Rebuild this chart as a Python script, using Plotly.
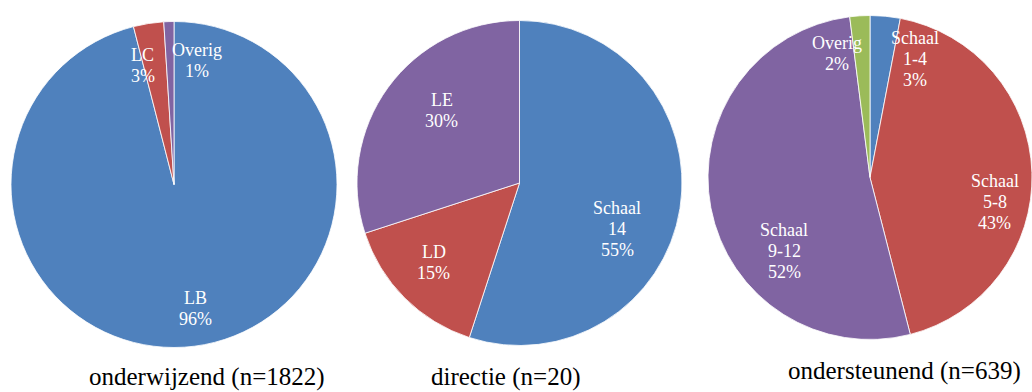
import math
import plotly.graph_objects as go

# ---------------- data ----------------
titles = ["onderwijzend (n=1822)", "directie (n=20)", "ondersteunend (n=639)"]

cats_onderwijzend = ["LB", "LC", "Overig"]
vals_onderwijzend = [96, 3, 1]

cats_directie = ["Schaal 14", "LD", "LE"]
vals_directie = [55, 15, 30]

cats_ondersteunend = ["Schaal 1-4", "Schaal 5-8", "Schaal 9-12", "Overig"]
vals_ondersteunend = [3, 43, 52, 2]

# ---------------- style / layout ----------------
W, H = 1032, 392
BLUE, RED, PURPLE, GREEN = "#4F81BD", "#C0504D", "#8064A2", "#9BBB59"
colors = [
    [BLUE, RED, PURPLE],
    [BLUE, RED, PURPLE],
    [BLUE, RED, PURPLE, GREEN],
]
# pie boxes in pixels: (left, top, right, bottom)
boxes = [(11, 21, 337, 348), (357, 20, 682, 346), (708, 15, 1032, 340)]
# label placement: fraction of radius along mid-angle, plus pixel nudges
LABEL_FRAC = 0.72
LINE_GAP = 21
nudges = [
    [(7, 8), (-13, -3), (27, -7)],
    [(-18, 28), (-3, -3), (17, -4)],
    [(34, -2), (8, 28), (29, 52), (-26, -8)],
]
title_x = [207, 505, 904]
title_lift = [0, 0, 6]

FONT = "Liberation Serif, Times New Roman, serif"

pies = [
    (cats_onderwijzend, vals_onderwijzend),
    (cats_directie, vals_directie),
    (cats_ondersteunend, vals_ondersteunend),
]

fig = go.Figure()
annotations = []

for i, (cats, vals) in enumerate(pies):
    l, t, r, b = boxes[i]
    fig.add_trace(go.Pie(
        labels=cats,
        values=vals,
        sort=False,
        direction="clockwise",
        rotation=0,
        textinfo="none",
        hoverinfo="label+percent",
        marker=dict(colors=colors[i], line=dict(color="white", width=0.8)),
        domain=dict(x=[l / W, r / W], y=[1 - b / H, 1 - t / H]),
        showlegend=False,
    ))
    cx = (l + r) / 2
    cy = (t + b) / 2
    rad = min(r - l, b - t) / 2
    total = sum(vals)
    cum = 0
    for j, (c, v) in enumerate(zip(cats, vals)):
        mid = (cum + v / 2) / total * 2 * math.pi
        cum += v
        px = cx + LABEL_FRAC * rad * math.sin(mid) + nudges[i][j][0]
        py = cy - LABEL_FRAC * rad * math.cos(mid) + nudges[i][j][1]
        lines = c.split(" ") + [f"{100 * v / total:.0f}%"]
        n = len(lines)
        for k, line in enumerate(lines):
            ly = py + (k - (n - 1) / 2) * LINE_GAP
            annotations.append(dict(
                x=px / W, y=1 - ly / H, xref="paper", yref="paper",
                text=line, showarrow=False, xanchor="center", yanchor="middle",
                font=dict(family=FONT, size=18, color="white"),
            ))
    annotations.append(dict(
        x=title_x[i] / W, y=0, xref="paper", yref="paper",
        text=titles[i], showarrow=False, xanchor="center", yanchor="bottom",
        yshift=title_lift[i], borderpad=0,
        font=dict(family=FONT, size=25, color="black"),
    ))

fig.update_layout(
    width=W, height=H,
    margin=dict(l=0, r=0, t=0, b=0),
    paper_bgcolor="white",
    plot_bgcolor="white",
    annotations=annotations,
    showlegend=False,
)

fig.write_html(
    "out.html",
    config={"displayModeBar": False},
    post_script="document.body.style.margin='0';document.body.style.overflow='hidden';",
)
